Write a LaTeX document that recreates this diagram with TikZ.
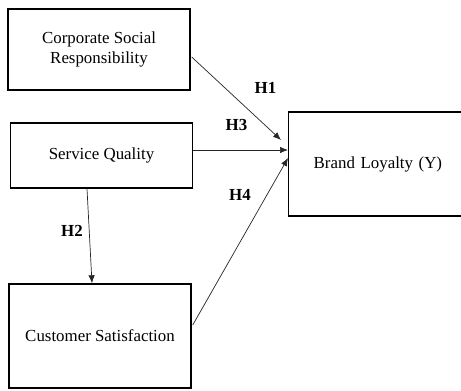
\documentclass[tikz,border=0pt]{standalone}
\usepackage{fontspec}
\setmainfont{Liberation Serif}
\usetikzlibrary{arrows.meta}

\begin{document}
\begin{tikzpicture}
[
	x	= 0.025cm,	% one unit is one pixel of the reference
	y	= -0.025cm,	% y runs downwards, as in the reference
	%
	%
	% ----------- options for the model --------------
	every node/.style =
	{
		font		= \fontsize{12}{14.4}\selectfont
	},
	%
	construct/.style =
	{
		draw,
		rectangle,
		line width	= 1pt,
		minimum width	= 4.55cm,
		align		= center
	},
	%
	hypo/.style =
	{
		font		= \fontsize{12}{14.4}\selectfont\bfseries
	},
	%
	link/.style =
	{
		draw,
		black!85,
		line width	= 0.5pt,
		-{Latex[length=2mm, width=1.6mm]}
	}
]

\useasboundingbox (0,0) rectangle (461,390);

% constructs
\node [construct, minimum height = 2.025cm] (csr) at (99,49.5) {Corporate Social\\Responsibility};
\node [construct, minimum height = 1.625cm] (sq) at (101.5,155.5) {Service Quality};
\node [construct, minimum height = 2.6cm] (cs) at (100,336) {Customer Satisfaction};
\node [construct, minimum height = 2.6cm, anchor = west, align = left,
	inner xsep = 0.625cm, text width = 3.3cm] (bl) at (288,164) {Brand Loyalty (Y)};

% small mark on the left of the last box
\draw [line width = 1.2pt] ([shift={(1,-8)}]cs.west) -- ([shift={(1,10)}]cs.west);

% hypotheses
\draw [link] ([shift={(1,7.5)}]csr.east) -- ([shift={(-7,-24)}]bl.west);
\draw [link] ([shift={(0,-5.5)}]sq.east) -- ([shift={(0,-14)}]bl.west);
\draw [link] ([shift={(-14.5,0)}]sq.south) -- ([shift={(-8,0)}]cs.north);
\draw [link] ([shift={(1,-11)}]cs.east) -- ([shift={(0,-6)}]bl.west);

\node [hypo] (h1) at (265.5,88) {H1};
\node [hypo] (h3) at (236.5,124.5) {H3};
\node [hypo] (h4) at (240,195) {H4};
\node [hypo] (h2) at (72,231) {H2};

\end{tikzpicture}
\end{document}
